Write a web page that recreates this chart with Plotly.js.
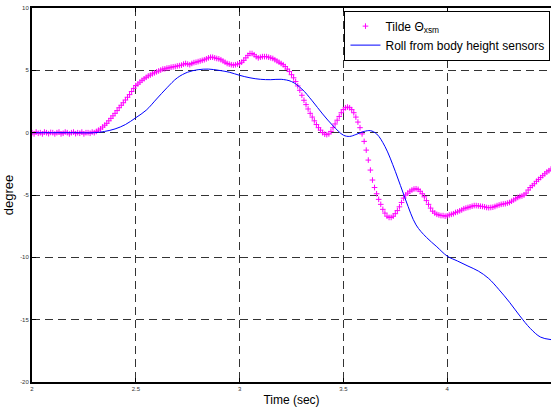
<!DOCTYPE html>
<html><head><meta charset="utf-8">
<script src="https://cdn.plot.ly/plotly-3.0.1.min.js"></script>
<style>html,body{margin:0;padding:0;background:#fff}#chart{width:551px;height:408px}</style>
</head><body><div id="chart"></div>
<script>
// Tilde Theta_xsm samples (sampling start and interval, values in degrees)
const tildeStart = 2.0;
const tildeStep = 0.01;
const tildeValues = [
 0.0,-0.1,0.05,-0.05,0.0,-0.1,0.05,0.0,-0.08,0.02,
 0.0,-0.1,0.0,0.05,-0.1,-0.05,0.05,0.0,-0.1,0.0,
 0.05,-0.08,0.0,-0.05,0.05,-0.1,0.0,0.0,-0.05,0.05,
 0.0,0.1,0.2,0.3,0.45,0.6,0.75,0.95,1.15,1.35,
 1.55,1.77,2.0,2.2,2.4,2.62,2.84,3.05,3.3,3.55,
 3.78,3.9,4.05,4.2,4.32,4.44,4.55,4.62,4.72,4.8,
 4.88,4.95,5.02,5.1,5.12,5.18,5.2,5.25,5.28,5.3,
 5.35,5.38,5.42,5.5,5.55,5.5,5.45,5.55,5.62,5.65,
 5.7,5.75,5.8,5.85,5.92,6.0,6.05,6.05,6.0,5.95,
 5.92,5.85,5.75,5.65,5.55,5.5,5.45,5.42,5.45,5.5,
 5.55,5.65,5.8,6.0,6.2,6.35,6.35,6.25,6.1,6.0,
 6.05,6.1,6.1,6.1,6.05,6.0,5.95,5.85,5.75,5.65,
 5.55,5.45,5.3,5.1,4.9,4.65,4.4,4.1,3.75,3.4,
 3.0,2.6,2.25,1.9,1.55,1.25,0.95,0.65,0.4,0.2,
 0.0,-0.12,-0.16,-0.1,0.1,0.4,0.7,1.0,1.3,1.6,
 1.85,2.0,2.05,2.0,1.85,1.6,1.25,0.85,0.4,-0.1,
 -0.7,-1.4,-2.2,-3.0,-3.8,-4.4,-4.9,-5.35,-5.75,-6.15,
 -6.45,-6.7,-6.8,-6.8,-6.7,-6.5,-6.25,-5.95,-5.6,-5.25,
 -5.0,-4.85,-4.7,-4.6,-4.52,-4.5,-4.55,-4.7,-4.9,-5.15,
 -5.45,-5.75,-6.05,-6.3,-6.45,-6.55,-6.6,-6.65,-6.65,-6.7,
 -6.67,-6.6,-6.55,-6.5,-6.4,-6.35,-6.27,-6.2,-6.1,-6.05,
 -6.0,-5.95,-5.9,-5.85,-5.85,-5.87,-5.9,-5.92,-5.95,-6.0,
 -6.02,-6.0,-5.98,-5.92,-5.85,-5.8,-5.75,-5.72,-5.7,-5.65,
 -5.6,-5.5,-5.4,-5.3,-5.2,-5.12,-5.08,-5.0,-4.85,-4.6,
 -4.4,-4.25,-4.1,-3.9,-3.75,-3.6,-3.45,-3.3,-3.15,-3.05,
 -2.92
];
const tildeTime = tildeValues.map((_, i) => +(tildeStart + i * tildeStep).toFixed(2));

// Roll from body height sensors
const rollTime = [2.0,2.1,2.2,2.3,2.35,2.4,2.45,2.5,2.55,2.6,2.65,2.7,2.75,2.8,2.85,2.9,2.95,3.0,3.05,3.1,3.15,3.2,3.25,3.3,3.35,3.4,3.45,3.5,3.53,3.56,3.6,3.63,3.66,3.7,3.75,3.8,3.85,3.9,3.95,4.0,4.05,4.1,4.15,4.2,4.25,4.3,4.35,4.4,4.45,4.5];
const rollValues = [0,0,0,0,0.1,0.3,0.65,1.2,1.8,2.7,3.6,4.4,4.85,5.05,5.1,5.0,4.85,4.6,4.4,4.28,4.25,4.28,4.1,3.5,2.55,1.5,0.55,-0.2,-0.3,-0.15,0.1,0.16,-0.1,-1.1,-3.1,-5.4,-7.4,-8.4,-9.15,-9.9,-10.3,-10.7,-11.1,-11.7,-12.6,-13.6,-14.7,-15.7,-16.4,-16.6];

const xTicks = [2, 2.5, 3, 3.5, 4, 4.5];
const xTickText = ['2', '2.5', '3', '3.5', '4', '4.5'];
const yTicks = [-20, -15, -10, -5, 0, 5, 10];
const yTickText = ['-20', '-15', '-10', '-5', '0', '5', '10'];

const traces = [
  {x: tildeTime, y: tildeValues, type: 'scatter', mode: 'markers', name: 'Tilde Θ<sub>xsm</sub>',
   marker: {symbol: 'cross-thin', size: 4, color: '#ff00ff', line: {width: 1, color: '#ff00ff'}}},
  {x: rollTime, y: rollValues, type: 'scatter', mode: 'lines', name: 'Roll from body height sensors',
   line: {color: '#0000ff', width: 1, shape: 'spline'}}
];

const axisCommon = {
  showline: true, linecolor: '#000', linewidth: 2,
  showgrid: true, gridcolor: '#333', gridwidth: 1, griddash: '8px,5px',
  zeroline: false, ticks: 'inside', ticklen: 4, tickcolor: '#000',
  tickfont: {size: 6, color: '#333'}, tickmode: 'array'
};

const layout = {
  width: 551, height: 408,
  margin: {l: 32, r: 0, t: 8, b: 26},
  paper_bgcolor: '#fff', plot_bgcolor: '#fff',
  font: {family: 'Liberation Sans, Arial, sans-serif', color: '#000'},
  showlegend: true,
  legend: {x: 0.999, y: 0.993, xanchor: 'right', yanchor: 'top', bgcolor: '#fff',
           bordercolor: '#000', borderwidth: 1, font: {size: 12, color: '#000'},
           tracegroupgap: 0, itemwidth: 30},
  xaxis: Object.assign({}, axisCommon, {mirror: 'ticks', range: [2, 4.5], tickvals: xTicks, ticktext: xTickText,
          title: {text: 'Time (sec)', font: {size: 12}, standoff: 4}}),
  yaxis: Object.assign({}, axisCommon, {mirror: false, range: [-20, 10], tickvals: yTicks, ticktext: yTickText,
          title: {text: 'degree', font: {size: 13}, standoff: 4}})
};

Plotly.newPlot('chart', traces, layout, {displayModeBar: false, staticPlot: true});
</script>
</body></html>
